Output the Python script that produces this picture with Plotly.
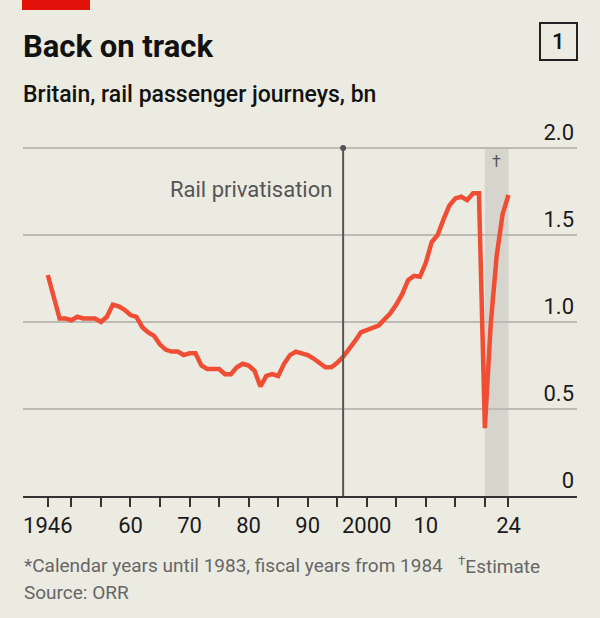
import plotly.graph_objects as go

# ---- data ----
years = list(range(1946, 2025))
journeys_bn = [
    1.27, 1.14, 1.02, 1.02, 1.01, 1.03, 1.02, 1.02, 1.02, 1.00,   # 1946-1955
    1.03, 1.10, 1.09, 1.07, 1.04, 1.03, 0.97, 0.94, 0.92, 0.87,   # 1956-1965
    0.84, 0.83, 0.83, 0.81, 0.82, 0.82, 0.75, 0.73, 0.73, 0.73,   # 1966-1975
    0.70, 0.70, 0.74, 0.76, 0.75, 0.72, 0.63, 0.69, 0.70, 0.69,   # 1976-1985
    0.76, 0.81, 0.83, 0.82, 0.81, 0.79, 0.765, 0.74, 0.74, 0.765, # 1986-1995
    0.80, 0.84, 0.89, 0.94, 0.955, 0.965, 0.98, 1.015, 1.05, 1.10, # 1996-2005
    1.16, 1.24, 1.265, 1.26, 1.34, 1.46, 1.50, 1.59, 1.67, 1.71,  # 2006-2015
    1.72, 1.70, 1.74, 1.74, 0.39, 0.99, 1.38, 1.62, 1.73,         # 2016-2024
]
x_tick_vals = [1946, 1960, 1970, 1980, 1990, 2000, 2010, 2024]
x_tick_text = ["1946", "60", "70", "80", "90", "2000", "10", "24"]
x_minor_tick_vals = [1950, 1955, 1965, 1975, 1985, 1995, 2005, 2015, 2020]
y_tick_vals = [0, 0.5, 1.0, 1.5, 2.0]
y_tick_text = ["0", "0.5", "1.0", "1.5", "2.0"]
privatisation_year = 1996
estimate_start, estimate_end = 2020, 2024

# ---- style ----
BG = "#ECEBE2"
LINE = "#EF4E35"
GRID = "#BCBBB3"
FONT = "Roboto"

W, H = 600, 618
ML, MR, MT, MB = 23, 23, 112, 122
PW, PH = W - ML - MR, H - MT - MB


def px(xp):
    return (xp - ML) / PW


def py(yp):
    return (H - MB - yp) / PH


fig = go.Figure()

fig.add_trace(go.Scatter(
    x=years, y=journeys_bn, mode="lines",
    line=dict(color=LINE, width=4.5),
    hoverinfo="skip", showlegend=False, cliponaxis=False,
))
fig.add_trace(go.Scatter(
    x=[privatisation_year], y=[2.0], mode="markers",
    marker=dict(color="#555555", size=6),
    hoverinfo="skip", showlegend=False, cliponaxis=False,
))

shapes = [
    dict(type="rect", xref="x", yref="y", x0=estimate_start, x1=estimate_end,
         y0=0, y1=2.0, fillcolor="#D6D5CD", line=dict(width=0), layer="below"),
    dict(type="line", xref="x", yref="y", x0=privatisation_year, x1=privatisation_year,
         y0=0, y1=2.0, line=dict(color="#555555", width=2)),
    dict(type="rect", xref="paper", yref="paper", x0=px(22), x1=px(90),
         y0=py(10), y1=py(0), fillcolor="#E3120B", line=dict(width=0)),
    dict(type="rect", xref="paper", yref="paper", x0=px(540), x1=px(577),
         y0=py(60), y1=py(23), fillcolor="rgba(0,0,0,0)",
         line=dict(color="#222222", width=2)),
]

annotations = [
    dict(text="<b>Back on track</b>", xref="paper", yref="paper", x=px(21), y=py(46),
         xanchor="left", yanchor="middle", showarrow=False,
         font=dict(family=FONT, size=31, color="#121212")),
    dict(text="Britain, rail passenger journeys, bn", xref="paper", yref="paper",
         x=px(21), y=py(94), xanchor="left", yanchor="middle", showarrow=False,
         font=dict(family=FONT, size=23, color="#121212", weight=500)),
    dict(text="1", xref="paper", yref="paper", x=px(558.5), y=py(41.5),
         xanchor="center", yanchor="middle", showarrow=False,
         font=dict(family=FONT, size=22, color="#121212", weight=500)),
    dict(text="Rail privatisation", xref="x", yref="y", x=privatisation_year, y=1.76,
         xanchor="right", yanchor="middle", xshift=-9, showarrow=False,
         font=dict(family=FONT, size=22, color="#555555")),
    dict(text="†", xref="x", yref="y", x=(estimate_start + estimate_end) / 2, y=1.92,
         xanchor="center", yanchor="middle", showarrow=False,
         font=dict(family=FONT, size=16, color="#555555")),
    dict(text="*Calendar years until 1983, fiscal years from 1984", xref="paper",
         yref="paper", x=px(22), y=py(565), xanchor="left", yanchor="middle",
         showarrow=False, font=dict(family=FONT, size=19, color="#666666")),
    dict(text="<sup>†</sup>Estimate", xref="paper", yref="paper", x=px(456), y=py(565),
         xanchor="left", yanchor="middle", showarrow=False,
         font=dict(family=FONT, size=19, color="#666666")),
    dict(text="Source: ORR", xref="paper", yref="paper", x=px(22), y=py(592),
         xanchor="left", yanchor="middle", showarrow=False,
         font=dict(family=FONT, size=19, color="#666666")),
]

fig.update_layout(
    width=W, height=H,
    margin=dict(l=ML, r=MR, t=MT, b=MB, pad=0),
    paper_bgcolor=BG, plot_bgcolor=BG,
    shapes=shapes, annotations=annotations,
    showlegend=False,
    xaxis=dict(
        range=[1941.8, 2035.6], tickmode="array", tickvals=x_tick_vals, ticktext=x_tick_text,
        showgrid=False, zeroline=False, showline=True, linecolor="#333333", linewidth=2,
        ticks="outside", ticklen=9, tickwidth=1.5, tickcolor="#333333",
        tickfont=dict(family=FONT, size=22, color="#1a1a1a"),
        minor=dict(tickmode="array", tickvals=x_minor_tick_vals, ticks="outside",
                   ticklen=9, tickwidth=1.5, tickcolor="#333333", showgrid=False),
    ),
    yaxis=dict(
        range=[0, PH / 174], tickmode="array", tickvals=y_tick_vals, ticktext=y_tick_text,
        side="right", ticklabelposition="inside top",
        showgrid=True, gridcolor=GRID, gridwidth=1.5, zeroline=False, showline=False,
        ticks="", tickfont=dict(family=FONT, size=22, color="#1a1a1a"),
    ),
)

fig.write_html("out.html")
